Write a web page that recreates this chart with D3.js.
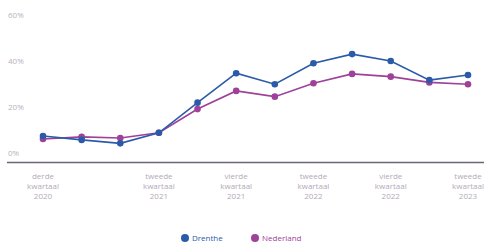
<!DOCTYPE html>
<html>
<head>
<meta charset="utf-8">
<script src="https://cdn.jsdelivr.net/npm/d3@7"></script>
<style>
  body { margin: 0; background: #fff; }
  svg { display: block; font-family: "Open Sans", sans-serif; }
</style>
</head>
<body>
<div id="chart"></div>
<script>
// kwartalen (x-as)
const quarters = ["2020-3", "2020-4", "2021-1", "2021-2", "2021-3", "2021-4",
                  "2022-1", "2022-2", "2022-3", "2022-4", "2023-1", "2023-2"];
// waarden in procenten
const drenthe   = [8.7, 7.0, 5.5, 10.1, 23.2, 36.0, 31.2, 40.3, 44.3, 41.3, 33.0, 35.2];
const nederland = [7.4, 8.3, 7.8, 10.1, 20.4, 28.3, 25.8, 31.6, 35.7, 34.5, 32.0, 31.2];
// labels onder de as
const tickQuarters = ["2020-3", "2021-2", "2021-4", "2022-2", "2022-4", "2023-2"];
const tickLabels = [
    ["derde", "kwartaal", "2020"],
    ["tweede", "kwartaal", "2021"],
    ["vierde", "kwartaal", "2021"],
    ["tweede", "kwartaal", "2022"],
    ["vierde", "kwartaal", "2022"],
    ["tweede", "kwartaal", "2023"]
];
const yTicks = [0, 20, 40, 60];
const seriesNames = ["Drenthe", "Nederland"];
const colors = ["#2b5ba8", "#9e4199"];

const width = 486, height = 251;

const svg = d3.select("#chart").append("svg")
    .attr("width", width)
    .attr("height", height);

const x = d3.scalePoint()
    .domain(quarters)
    .range([43, 468]);

const y = d3.scaleLinear()
    .domain([0, 60])
    .range([156, 18]);

// y-as labels (geen lijnen)
svg.append("g")
    .selectAll("text")
    .data(yTicks)
    .enter()
    .append("text")
    .attr("x", 8)
    .attr("y", d => y(d) - 0.5)
    .attr("font-size", "8px")
    .attr("fill", "#b9b2bd")
    .text(d => d + "%");

// onderste lijn
svg.append("line")
    .attr("x1", 7)
    .attr("x2", 484)
    .attr("y1", 162.5)
    .attr("y2", 162.5)
    .attr("stroke", "#6b6673")
    .attr("stroke-width", 1.5);

// x-as labels
const xl = svg.append("g")
    .selectAll("text")
    .data(tickQuarters)
    .enter()
    .append("text")
    .attr("text-anchor", "middle")
    .attr("font-size", "8px")
    .attr("fill", "#b4a9b8");

xl.each(function(d, i) {
    const t = d3.select(this);
    tickLabels[i].forEach((line, j) => {
        t.append("tspan")
            .attr("x", x(d))
            .attr("y", 179 + j * 10)
            .text(line);
    });
});

// lijnen + punten
const allSeries = [nederland, drenthe];
const allColors = [colors[1], colors[0]];

const line = d3.line()
    .x((d, i) => x(quarters[i]))
    .y(d => y(d));

allSeries.forEach((s, k) => {
    svg.append("path")
        .datum(s)
        .attr("d", line)
        .attr("fill", "none")
        .attr("stroke", allColors[k])
        .attr("stroke-width", 1.6);

    svg.append("g")
        .selectAll("circle")
        .data(s)
        .enter()
        .append("circle")
        .attr("cx", (d, i) => x(quarters[i]))
        .attr("cy", d => y(d))
        .attr("r", 3.3)
        .attr("fill", allColors[k]);
});

// legenda
const legendX = [185, 255];
seriesNames.forEach((name, i) => {
    svg.append("circle")
        .attr("cx", legendX[i])
        .attr("cy", 238)
        .attr("r", 4)
        .attr("fill", colors[i]);
    svg.append("text")
        .attr("x", legendX[i] + 7)
        .attr("y", 241)
        .attr("font-size", "8px")
        .attr("fill", colors[i])
        .text(name);
});
</script>
</body>
</html>
